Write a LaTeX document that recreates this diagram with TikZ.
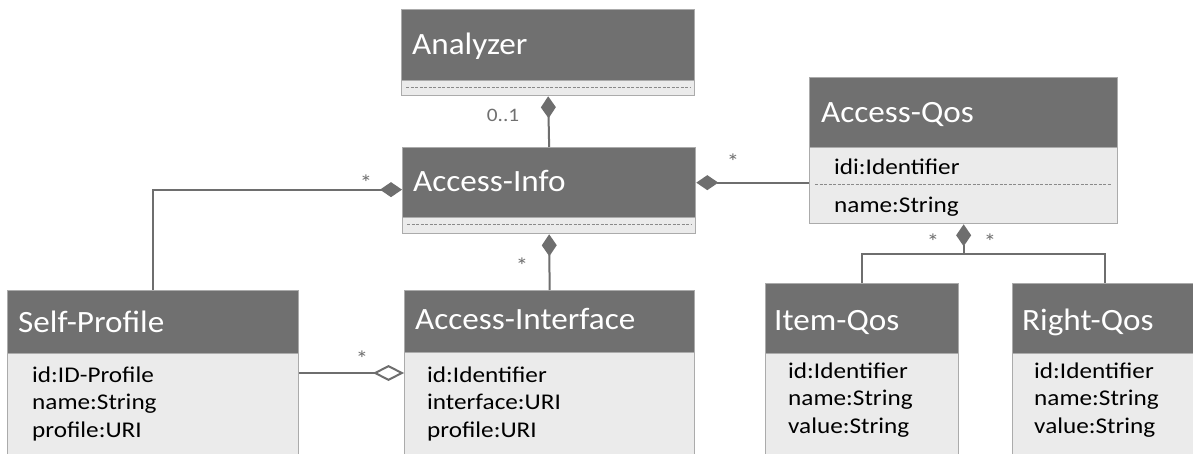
\documentclass[tikz,border=0pt]{standalone}
\usepackage{fontspec}
\setmainfont{Carlito}
\newfontfamily\ttlfont{Carlito}[FakeStretch=1.07]
\newfontfamily\attrfont{Carlito}[FakeStretch=1.12]
\usetikzlibrary{arrows.meta,calc}
\definecolor{hdrc}{HTML}{707070}
\definecolor{bodyc}{HTML}{EBEBEB}
\definecolor{bordc}{HTML}{ABABAB}
\definecolor{linec}{HTML}{6E6E6E}
\definecolor{dashc}{HTML}{8A8A8A}
\definecolor{labc}{HTML}{707070}
\begin{document}
\begin{tikzpicture}[x=1pt,y=-1pt,
  hdr/.style={draw=bordc, fill=hdrc, line width=1.3pt, inner sep=0pt, anchor=north west},
  bdy/.style={draw=bordc, fill=bodyc, line width=1.3pt, inner sep=0pt, anchor=north west},
  ttl/.style={text=white, font=\ttlfont\fontsize{31}{36}\selectfont, anchor=base west, inner sep=0pt},
  attr/.style={text=black, font=\attrfont\fontsize{22.5}{26}\selectfont, anchor=base west, inner sep=0pt},
  lab/.style={text=labc, font=\attrfont\fontsize{19}{22}\selectfont, inner sep=0pt},
  star/.style={text=labc, font=\attrfont\fontsize{22}{24}\selectfont, inner sep=0pt},
  conn/.style={draw=linec, line width=2pt},
  sep/.style={draw=dashc, line width=1pt, dash pattern=on 3pt off 1.5pt},
  comp/.style={conn, {Diamond[length=22pt, width=15pt, fill=linec]}-},
  aggr/.style={conn, {Diamond[open, length=31pt, width=16pt, fill=white]}-}
]
\useasboundingbox (0,0) rectangle (1193,454);
\fill[white] (0,0) rectangle (1193,454);

% Analyzer
\node[hdr, minimum width=293pt, minimum height=71pt] (anh) at (401,9) {};
\node[bdy, minimum width=293pt, minimum height=15pt] (ans) at (401,80) {};
\draw[sep] (406,87.5) -- (690,87.5);
\node[ttl] (ant) at (412,55) {Analyzer};

% Access-Info
\node[hdr, minimum width=293pt, minimum height=70pt] (aih) at (402,147) {};
\node[bdy, minimum width=293pt, minimum height=16pt] (ais) at (402,217) {};
\draw[sep] (407,225) -- (691,225);
\node[ttl] (ait) at (413,192) {Access-Info};

% Access-Qos
\node[hdr, minimum width=308pt, minimum height=70pt] (aqh) at (809,77) {};
\node[bdy, minimum width=308pt, minimum height=76pt] (aqb) at (809,147) {};
\draw[sep] (815,185) -- (1112,185);
\node[ttl] (aqt) at (821,123) {Access-Qos};
\node[attr] (aq1) at (834,175) {idi:Identifier};
\node[attr] (aq2) at (834,213) {name:String};

% Self-Profile
\node[hdr, minimum width=291pt, minimum height=63pt] (sph) at (7,290) {};
\node[bdy, minimum width=291pt, minimum height=110pt] (spb) at (7,353) {};
\node[ttl] (spt) at (18,332) {Self-Profile};
\node[attr] (sp1) at (32,382) {id:ID-Profile};
\node[attr] (sp2) at (32,409.5) {name:String};
\node[attr] (sp3) at (32,437) {profile:URI};

% Access-Interface
\node[hdr, minimum width=290pt, minimum height=62pt] (aih2) at (404,290) {};
\node[bdy, minimum width=290pt, minimum height=110pt] (aib) at (404,352) {};
\node[ttl] (ait2) at (415,329) {Access-Interface};
\node[attr] (ai1) at (427,382) {id:Identifier};
\node[attr] (ai2) at (427,409.5) {interface:URI};
\node[attr] (ai3) at (427,437) {profile:URI};

% Item-Qos
\node[hdr, minimum width=193pt, minimum height=70pt] (iqh) at (765,283) {};
\node[bdy, minimum width=193pt, minimum height=120pt] (iqb) at (765,353) {};
\node[ttl] (iqt) at (774,330) {Item-Qos};
\node[attr] (iq1) at (788,378) {id:Identifier};
\node[attr] (iq2) at (788,405.5) {name:String};
\node[attr] (iq3) at (788,433) {value:String};

% Right-Qos
\node[hdr, minimum width=184pt, minimum height=70pt] (rqh) at (1012,283) {};
\node[bdy, minimum width=184pt, minimum height=120pt] (rqb) at (1012,353) {};
\node[ttl] (rqt) at (1022,330) {Right-Qos};
\node[attr] (rq1) at (1034,378) {id:Identifier};
\node[attr] (rq2) at (1034,405.5) {name:String};
\node[attr] (rq3) at (1034,433) {value:String};

% connectors
\draw[comp] (ans.south) -- (aih.north);
\draw[comp] (ais.south) -- (aih2.north);
\draw[comp] ($(aih.west)+(0,7)$) -| (sph.north);
\draw[comp] (aih.east) -- (aih.east -| aqb.west);
\draw[comp] (aqb.south) -- ++(0,30) coordinate (aqj);
\draw[conn] (iqh.north) |- (aqj) -| (rqh.north);
\draw[aggr] ($(aib.north west)+(0,21)$) -- ($(spb.north east)+(0,20)$);

% multiplicities
\node[lab] (l01) at (503,115) {0..1};
\node[star] (l1) at (366,183) {*};
\node[star] (l2) at (733,162) {*};
\node[star] (l3) at (522,266) {*};
\node[star] (l4) at (362,359) {*};
\node[star] (l5) at (933,242) {*};
\node[star] (l6) at (990,242) {*};
\end{tikzpicture}
\end{document}
